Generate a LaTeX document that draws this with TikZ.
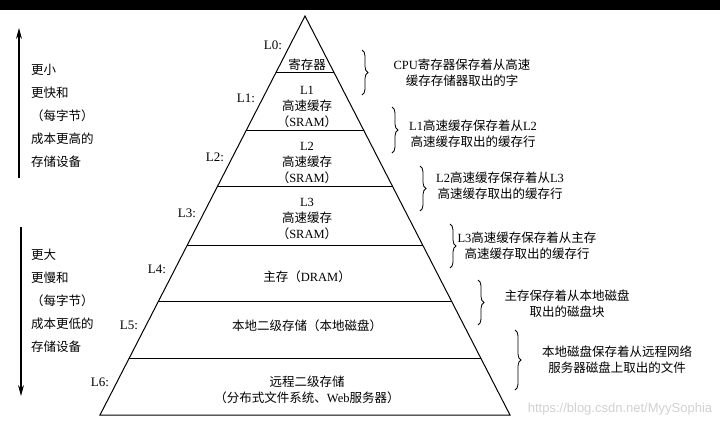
\documentclass[tikz,border=0pt]{standalone}
\usepackage{fontspec}
\setmainfont{Liberation Serif}
\newfontfamily\cjk{Noto Sans CJK SC}
\newfontfamily\wmfont{Liberation Sans}
\newcommand\C[1]{{\cjk #1}}
\usetikzlibrary{calc,decorations.pathreplacing,arrows.meta}
\tikzset{
  ln/.style={line width=1pt, black},
  txt/.style={font=\fontsize{12.5}{16}\selectfont, align=center, inner sep=0pt},
  lefttxt/.style={font=\fontsize{12.5}{23}\selectfont, align=left, inner sep=0pt, anchor=west},
  lvl/.style={font=\fontsize{13}{16}\selectfont, inner sep=0pt},
  brc/.style={line width=0.8pt, decorate, decoration={brace, amplitude=6pt}},
  bigarrow/.style={line width=1.2pt, -{Stealth[length=11pt,width=6pt]}}
}
\begin{document}
\begin{tikzpicture}[x=1pt,y=-1pt]
\useasboundingbox (0,0) rectangle (720,423);
\fill[white] (0,0) rectangle (720,423);
\fill[black] (0,0) rectangle (720,10);

% pyramid
\coordinate (A) at (305,16);
\coordinate (BL) at (100,415);
\coordinate (BR) at (510,415);
\draw[ln] (BL) -- (A) -- (BR) -- cycle;
\foreach \n/\yy in {0/73,1/131,2/187,3/245,4/302,5/359}{
  \coordinate (l\n) at ($(A)!{(\yy-16)/399}!(BL)$);
  \coordinate (r\n) at ($(A)!{(\yy-16)/399}!(BR)$);
  \draw[ln] (l\n) -- (r\n);
}

% layer contents
\node[txt] (m0) at (307,65) {\C{寄存器}};
\node[txt] (m1) at (307,107) {L1\\\C{高速缓存}\\\C{（}SRAM\C{）}};
\node[txt] (m2) at (307,163) {L2\\\C{高速缓存}\\\C{（}SRAM\C{）}};
\node[txt] (m3) at (307,219) {L3\\\C{高速缓存}\\\C{（}SRAM\C{）}};
\node[txt] (m4) at (307,277) {\C{主存（}DRAM\C{）}};
\node[txt] (m5) at (307,326) {\C{本地二级存储（本地磁盘）}};
\node[txt] (m6) at (307,390) {\C{远程二级存储}\\\C{（分布式文件系统、}Web\C{服务器）}};

% level labels
\node[lvl] (L0) at (273,45) {L0:};
\node[lvl] (L1) at (246,98) {L1:};
\node[lvl] (L2) at (215,157) {L2:};
\node[lvl] (L3) at (187,213) {L3:};
\node[lvl] (L4) at (157,269) {L4:};
\node[lvl] (L5) at (129,325) {L5:};
\node[lvl] (L6) at (100,382) {L6:};

% left arrows and text
\coordinate (upB) at (19,178);
\coordinate (upT) at (19,28);
\draw[bigarrow] (upB) -- (upT);
\node[lefttxt] (up) at (31,116) {\C{更小}\\\C{更快和}\\\C{（每字节）}\\\C{成本更高的}\\\C{存储设备}};
\coordinate (dnT) at (21,227);
\coordinate (dnB) at (21,396);
\draw[bigarrow] (dnT) -- (dnB);
\node[lefttxt] (dn) at (31,301) {\C{更大}\\\C{更慢和}\\\C{（每字节）}\\\C{成本更低的}\\\C{存储设备}};

% braces and notes
\draw[brc] (362,50) -- (362,95);
\node[txt] (n0) at (462,73) {CPU\C{寄存器保存着从高速}\\\C{缓存存储器取出的字}};
\draw[brc] (392,107) -- (392,153);
\node[txt] (n1) at (473,134) {L1\C{高速缓存保存着从}L2\\\C{高速缓存取出的缓存行}};
\draw[brc] (420,166) -- (420,211);
\node[txt] (n2) at (500,186) {L2\C{高速缓存保存着从}L3\\\C{高速缓存取出的缓存行}};
\draw[brc] (450,224) -- (450,268);
\node[txt] (n3) at (527,246) {L3\C{高速缓存保存着从主存}\\\C{高速缓存取出的缓存行}};
\draw[brc] (478,280) -- (478,325);
\node[txt] (n4) at (567,304) {\C{主存保存着从本地磁盘}\\\C{取出的磁盘块}};
\draw[brc] (515,330) -- (515,390);
\node[txt] (n5) at (617,360) {\C{本地磁盘保存着从远程网络}\\\C{服务器磁盘上取出的文件}};

% watermark
\node[font=\wmfont\fontsize{13}{15}\selectfont, text=black!18, inner sep=0pt] (wm) at (620,409) {https://blog.csdn.net/MyySophia};
\end{tikzpicture}
\end{document}
